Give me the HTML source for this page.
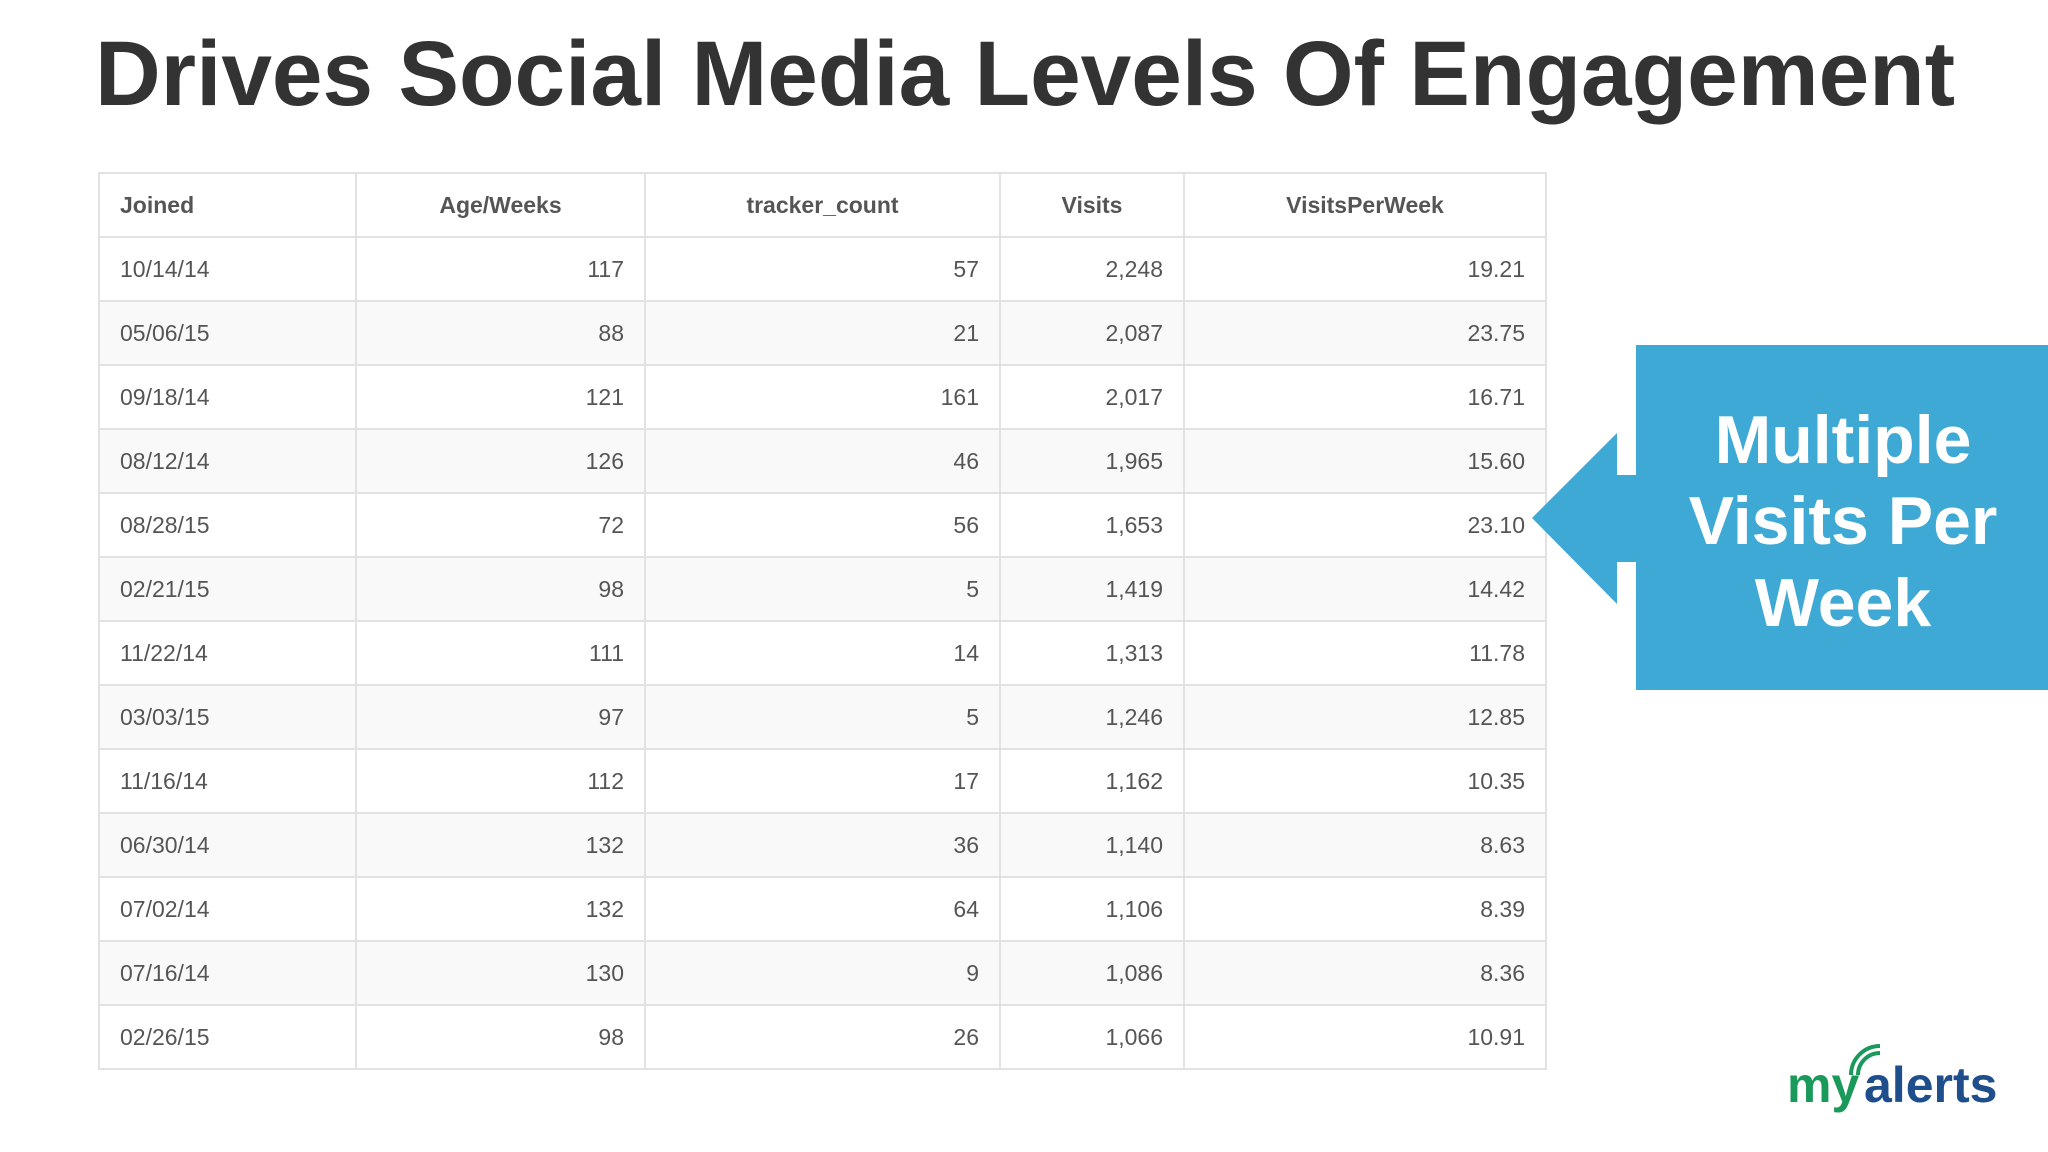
<!DOCTYPE html>
<html><head><meta charset="utf-8">
<style>
html,body{margin:0;padding:0;background:#fff;}
body{width:2048px;height:1152px;position:relative;overflow:hidden;font-family:"Liberation Sans",sans-serif;}
#tbl{position:absolute;left:98px;top:172px;border-collapse:collapse;font-size:23px;color:#555;}
#tbl td,#tbl th{border:2px solid #e2e2e2;height:64px;padding:0 20px;box-sizing:border-box;}
#tbl tr{height:64px;}
#tbl th{font-weight:bold;color:#555;}
#tbl tr:nth-child(even) td{background:#f9f9f9;}
.r{text-align:right;}
</style></head>
<body>
<svg width="2048" height="140" style="position:absolute;left:0;top:0">
<text x="95" y="105" font-family="Liberation Sans, sans-serif" font-weight="bold" font-size="92" fill="#333" textLength="1860" lengthAdjust="spacingAndGlyphs">Drives Social Media Levels Of Engagement</text>
</svg>
<table id="tbl">
<colgroup><col style="width:257px"><col style="width:289px"><col style="width:355px"><col style="width:184px"><col style="width:362px"></colgroup>
<thead><tr>
<th style="text-align:left">Joined</th>
<th>Age/Weeks</th>
<th>tracker_count</th>
<th>Visits</th>
<th>VisitsPerWeek</th>
</tr></thead>
<tbody id="tb"></tbody>
</table>

<svg width="2048" height="1152" style="position:absolute;left:0;top:0">
<path d="M1532,518 L1617,433 L1617,475 L1636,475 L1636,345 L2048,345 L2048,690 L1636,690 L1636,562 L1617,562 L1617,604 Z" fill="#3fa9d5"/>
<g font-family="Liberation Sans, sans-serif" font-weight="bold" font-size="68" fill="#fff" text-anchor="middle">
<text x="1843" y="463">Multiple</text>
<text x="1843" y="544">Visits Per</text>
<text x="1843" y="626">Week</text>
</g>
<g>
<text x="1787" y="1102" font-family="Liberation Sans, sans-serif" font-weight="bold" font-size="50" fill="#1a9a5a">my</text>
<text x="1864" y="1102" font-family="Liberation Sans, sans-serif" font-weight="bold" font-size="50" fill="#1f4e8c">alerts</text>
<path d="M1858,1075 a22,22 0 0 1 22,-22" stroke="#1a9a5a" stroke-width="4" fill="none"/>
<path d="M1851,1075 a29,29 0 0 1 29,-29" stroke="#1a9a5a" stroke-width="4" fill="none"/>
</g>
</svg>

<script>
const joined=["10/14/14","05/06/15","09/18/14","08/12/14","08/28/15","02/21/15","11/22/14","03/03/15","11/16/14","06/30/14","07/02/14","07/16/14","02/26/15"];
const ageWeeks=[117,88,121,126,72,98,111,97,112,132,132,130,98];
const trackerCount=[57,21,161,46,56,5,14,5,17,36,64,9,26];
const visits=["2,248","2,087","2,017","1,965","1,653","1,419","1,313","1,246","1,162","1,140","1,106","1,086","1,066"];
const visitsPerWeek=["19.21","23.75","16.71","15.60","23.10","14.42","11.78","12.85","10.35","8.63","8.39","8.36","10.91"];
const tb=document.getElementById('tb');
for(let i=0;i<joined.length;i++){
  const tr=document.createElement('tr');
  
  
  const vals=[joined[i],ageWeeks[i],trackerCount[i],visits[i],visitsPerWeek[i]];
  const names=['joined-cell','age-weeks-cell','tracker-count-cell','visits-cell','visits-per-week-cell'];
  vals.forEach((v,j)=>{
    const td=document.createElement('td');
    
    
    td.textContent=v;
    if(j>0)td.className='r';
    tr.appendChild(td);
  });
  tb.appendChild(tr);
}
</script>
</body></html>
